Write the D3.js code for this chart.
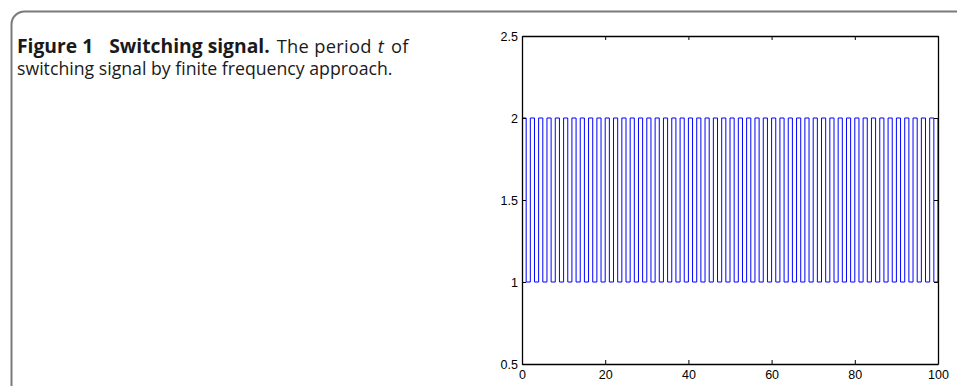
<!DOCTYPE html>
<html>
<head>
<meta charset="utf-8">
<script src="https://cdn.jsdelivr.net/npm/d3@7"></script>
<style>
  body { margin: 0; background: #fff; }
  svg { display: block; }
  .ax text { font-family: 'Liberation Sans', Arial, Helvetica, sans-serif; font-size: 12.5px; fill: #000; }
  .cap { font-family: 'Open Sans', 'Noto Sans', sans-serif; font-size: 17.7px; fill: #1a1a1a; }
</style>
</head>
<body>
<div id="chart"></div>
<script>
// switching signal sampled at t = 0, 1, ..., 100 (value held until next sample)
var times = d3.range(0, 101);
var signal = [2,1,2,1,2,1,2,1,2,1, 2,1,2,1,2,1,2,1,2,1,
              2,1,2,1,2,1,2,1,2,1, 2,1,2,1,2,1,2,1,2,1,
              2,1,2,1,2,1,2,1,2,1, 2,1,2,1,2,1,2,1,2,1,
              2,1,2,1,2,1,2,1,2,1, 2,1,2,1,2,1,2,1,2,1,
              2,1,2,1,2,1,2,1,2,1, 2,1,2,1,2,1,2,1,2,1, 2];
var xTicks = [0, 20, 40, 60, 80, 100];
var yTicks = [0.5, 1, 1.5, 2, 2.5];
var captionParts = [
  {text: "Figure 1", weight: "bold", style: "normal", gap: 16},
  {text: "Switching signal.", weight: "bold", style: "normal", gap: 7},
  {text: "The period", weight: "normal", style: "normal", gap: 6},
  {text: "t", weight: "normal", style: "italic", gap: 7},
  {text: "of", weight: "normal", style: "normal", gap: 0}
];
var captionLine2 = "switching signal by finite frequency approach.";

var W = 957, H = 386;
var margin = {top: 36, right: 19, bottom: 22, left: 522};
var width = W - margin.left - margin.right,
    height = H - margin.top - margin.bottom;

var svg = d3.select("#chart")
  .append("svg")
  .attr("width", W)
  .attr("height", H);

// figure frame
svg.append("rect")
  .attr("x", 11.5).attr("y", 11.5)
  .attr("width", 1000).attr("height", 500)
  .attr("rx", 13).attr("ry", 13)
  .attr("fill", "none")
  .attr("stroke", "#7a7a7a")
  .attr("stroke-width", 2);

// caption, first line laid out piece by piece
var cx = 17;
captionParts.forEach(function(p) {
  var t = svg.append("text").attr("class", "cap")
    .attr("x", cx).attr("y", 52.5)
    .style("font-size", p.weight == "bold" ? "19.3px" : "18.3px")
    .style("letter-spacing", p.weight == "bold" ? "0px" : "0.3px")
    .attr("font-weight", p.weight)
    .attr("font-style", p.style)
    .text(p.text);
  cx += t.node().getComputedTextLength() + p.gap;
});
svg.append("text").attr("class", "cap")
  .attr("x", 17).attr("y", 74.5)
  .text(captionLine2);

var g = svg.append("g")
  .attr("transform", "translate(" + margin.left + "," + margin.top + ")");

var x = d3.scaleLinear().domain([0, 100]).range([0, width]);
var y = d3.scaleLinear().domain([0.5, 2.5]).range([height, 0]);

var line = d3.line()
  .curve(d3.curveStepAfter)
  .x(function(d, i) { return x(times[i]); })
  .y(function(d) { return y(d); });

g.append("path")
  .datum(signal)
  .attr("d", line)
  .attr("fill", "none")
  .attr("stroke", "#0000ff")
  .attr("stroke-width", 1);

// MATLAB-style boxed axes with inward ticks
var xb = g.append("g").attr("class", "ax").attr("transform", "translate(0," + height + ")")
  .call(d3.axisBottom(x).tickValues(xTicks).tickSizeInner(-4).tickSizeOuter(0).tickPadding(8));
var xt = g.append("g").attr("class", "ax")
  .call(d3.axisTop(x).tickValues(xTicks).tickSizeInner(-4).tickSizeOuter(0).tickFormat(""));
var yl = g.append("g").attr("class", "ax")
  .call(d3.axisLeft(y).tickValues(yTicks).tickSizeInner(-4).tickSizeOuter(0).tickPadding(8)
    .tickFormat(d3.format("")));
var yr = g.append("g").attr("class", "ax").attr("transform", "translate(" + width + ",0)")
  .call(d3.axisRight(y).tickValues(yTicks).tickSizeInner(-4).tickSizeOuter(0).tickFormat(""));

[xb, xt, yl, yr].forEach(function(a) {
  a.select(".domain").attr("stroke", "#000").attr("stroke-width", 1.3);
  a.selectAll(".tick line").attr("stroke", "#000").attr("stroke-width", 1);
});
yl.selectAll(".tick text").attr("x", -4);
xb.selectAll(".tick text").attr("y", 6);
</script>
</body>
</html>
